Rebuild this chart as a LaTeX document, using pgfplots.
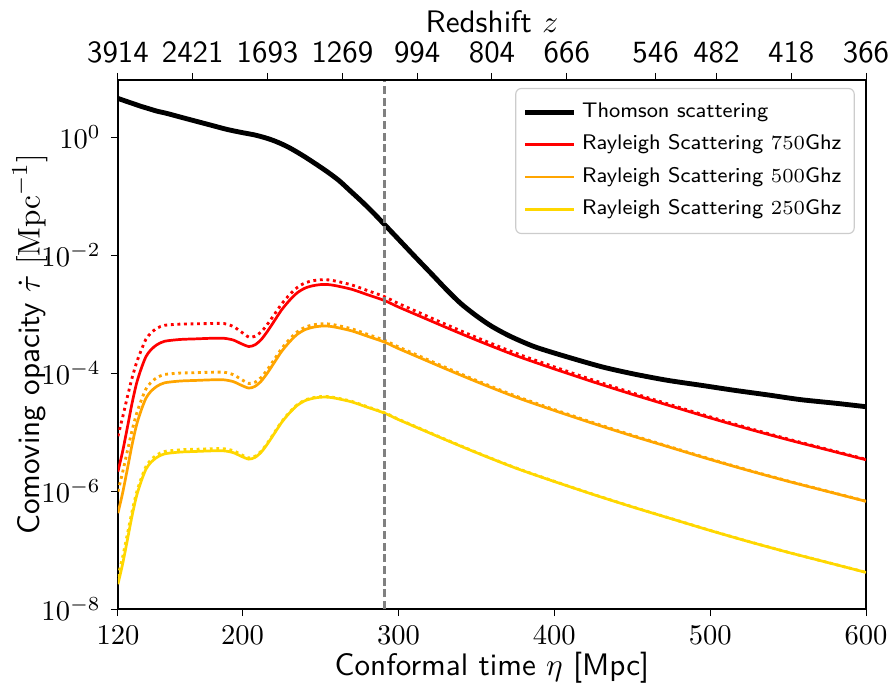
\documentclass[border=0pt]{standalone}
\usepackage{pgfplots}
\usepackage{pgfplotstable}
\pgfplotsset{compat=1.18}
\definecolor{cgold}{RGB}{255,215,0}
\definecolor{corange}{RGB}{255,165,0}
\definecolor{cred}{RGB}{255,0,0}

\pgfplotstableread{
eta thom
120 4.529
125 4.074
130 3.673
135 3.311
140 3.020
145 2.754
151.6 2.512
160 2.188
170 1.862
180 1.585
190 1.349
200 1.189
208 1.084
215 0.966
220 0.871
225 0.767
230 0.661
235 0.556
240 0.462
247.8 0.339
255 0.251
262 0.182
269 0.123
276 0.0832
283 0.0550
291 0.0331
300 0.0186
310 0.00977
322 0.00457
331 0.00257
340 0.00151
350 9.333e-4
360 6.166e-4
372 4.169e-4
387 2.818e-4
405 1.995e-4
430 1.288e-4
450 9.772e-5
472 7.586e-5
495 6.166e-5
515 5.129e-5
537 4.266e-5
558 3.548e-5
580 3.090e-5
600 2.692e-5
}\thomson

\pgfplotstableread{
eta r750 r500 r250 d750 d500 d250
120 2.138e-6 4.223e-7 2.640e-8 8.512e-6 9.818e-7 3.514e-8
123 4.677e-6 9.237e-7 5.774e-8 1.778e-5 2.074e-6 7.570e-8
126 1.175e-5 2.321e-6 1.451e-7 3.890e-5 4.705e-6 1.824e-7
129 3.020e-5 5.965e-6 3.728e-7 8.130e-5 1.045e-5 4.429e-7
132 6.761e-5 1.335e-5 8.347e-7 1.514e-4 2.071e-5 9.499e-7
135 1.202e-4 2.374e-5 1.484e-6 2.455e-4 3.473e-5 1.656e-6
138 1.905e-4 3.762e-5 2.352e-6 3.757e-4 5.387e-5 2.606e-6
141 2.455e-4 4.849e-5 3.031e-6 4.733e-4 6.847e-5 3.343e-6
145 3.020e-4 5.965e-5 3.728e-6 5.753e-4 8.363e-5 4.105e-6
150 3.467e-4 6.847e-5 4.280e-6 6.456e-4 9.469e-5 4.691e-6
160 3.715e-4 7.337e-5 4.586e-6 6.761e-4 1.001e-4 5.003e-6
170 3.802e-4 7.509e-5 4.694e-6 6.840e-4 1.017e-4 5.112e-6
180 3.890e-4 7.683e-5 4.802e-6 6.916e-4 1.034e-4 5.215e-6
188 3.890e-4 7.683e-5 4.802e-6 6.916e-4 1.034e-4 5.215e-6
194 3.631e-4 7.171e-5 4.483e-6 6.165e-4 9.394e-5 4.833e-6
199 3.162e-4 6.245e-5 3.904e-6 5.012e-4 7.869e-5 4.158e-6
204 2.818e-4 5.566e-5 3.479e-6 4.072e-4 6.668e-5 3.649e-6
208 3.020e-4 5.965e-5 3.728e-6 4.216e-4 7.015e-5 3.892e-6
212 3.715e-4 7.337e-5 4.586e-6 5.012e-4 8.474e-5 4.765e-6
216 5.129e-4 1.013e-4 6.332e-6 6.760e-4 1.156e-4 6.554e-6
220 7.413e-4 1.464e-4 9.152e-6 9.548e-4 1.651e-4 9.445e-6
225 1.175e-3 2.321e-4 1.451e-5 1.479e-3 2.588e-4 1.493e-5
230 1.698e-3 3.354e-4 2.096e-5 2.114e-3 3.720e-4 2.153e-5
235 2.291e-3 4.525e-4 2.828e-5 2.818e-3 4.987e-4 2.902e-5
240 2.754e-3 5.439e-4 3.400e-5 3.374e-3 5.983e-4 3.485e-5
245 3.020e-3 5.965e-4 3.728e-5 3.672e-3 6.538e-4 3.817e-5
250 3.162e-3 6.245e-4 3.904e-5 3.829e-3 6.832e-4 3.994e-5
255 3.162e-3 6.245e-4 3.904e-5 3.801e-3 6.807e-4 3.990e-5
260 3.020e-3 5.965e-4 3.728e-5 3.615e-3 6.490e-4 3.810e-5
270 2.630e-3 5.194e-4 3.247e-5 3.119e-3 5.625e-4 3.315e-5
280 2.138e-3 4.223e-4 2.640e-5 2.512e-3 4.552e-4 2.690e-5
291 1.698e-3 3.354e-4 2.096e-5 1.976e-3 3.599e-4 2.134e-5
300 1.318e-3 2.603e-4 1.627e-5 1.513e-3 2.775e-4 1.653e-5
315 8.913e-4 1.760e-4 1.100e-5 1.012e-3 1.866e-4 1.117e-5
330 6.026e-4 1.190e-4 7.440e-6 6.761e-4 1.254e-4 7.544e-6
350 3.631e-4 7.171e-5 4.483e-6 4.027e-4 7.515e-5 4.537e-6
375 1.995e-4 3.940e-5 2.463e-6 2.187e-4 4.109e-5 2.490e-6
400 1.175e-4 2.321e-5 1.451e-6 1.274e-4 2.407e-5 1.464e-6
425 7.079e-5 1.398e-5 8.740e-7 7.589e-5 1.443e-5 8.810e-7
450 4.365e-5 8.621e-6 5.389e-7 4.623e-5 8.845e-6 5.427e-7
475 2.754e-5 5.439e-6 3.400e-7 2.883e-5 5.553e-6 3.417e-7
500 1.738e-5 3.433e-6 2.146e-7 1.811e-5 3.498e-6 2.157e-7
525 1.122e-5 2.216e-6 1.385e-7 1.161e-5 2.251e-6 1.391e-7
550 7.413e-6 1.464e-6 9.152e-8 7.621e-6 1.482e-6 9.179e-8
575 5.012e-6 9.899e-7 6.188e-8 5.127e-6 9.998e-7 6.207e-8
600 3.388e-6 6.691e-7 4.183e-8 3.452e-6 6.745e-7 4.191e-8
}\rayleigh

\begin{document}
\begin{tikzpicture}
\begin{axis}[
  name=main,
  scale only axis, width=262pt, height=185.3pt,
  xmin=120, xmax=600,
  ymode=log, ymin=1e-8, ymax=9.3,
  xtick={120,200,300,400,500,600},
  ytick={1e-8,1e-6,1e-4,1e-2,1},
  yminorticks=false,
  tick align=outside, tick pos=left,
  major tick length=2.5pt,
  every tick/.style={black, line width=0.35pt},
  axis line style={line width=0.45pt},
  xlabel={Conformal time $\eta$ [Mpc]},
  ylabel={Comoving opacity $\dot{\tau}$ $[\mathrm{Mpc}^{-1}]$},
  xlabel style={font=\fontsize{10.9}{13}\sffamily, at={(axis description cs:0.5,-0.111)}, anchor=center, inner sep=1pt},
  ylabel style={font=\fontsize{10.9}{13}\sffamily, at={(axis description cs:-0.1176,0.5)}, anchor=center},
  legend cell align=left,
  legend style={at={(rel axis cs:0.985,0.985)}, anchor=north east,
    draw=black!20, rounded corners=2pt, fill=white, font=\fontsize{7.4}{8.9}\sffamily,
    row sep=0.6pt, inner xsep=2.5pt, inner ysep=3pt},
]
\addplot[smooth, tension=0.45, black, line width=1.7pt] table[x=eta, y=thom] {\thomson};
\addlegendentry{Thomson scattering}
\addplot[smooth, tension=0.45, cred, line width=0.95pt] table[x=eta, y=r750] {\rayleigh};
\addlegendentry{Rayleigh Scattering $750$Ghz}
\addplot[smooth, tension=0.45, corange, line width=0.95pt] table[x=eta, y=r500] {\rayleigh};
\addlegendentry{Rayleigh Scattering $500$Ghz}
\addplot[smooth, tension=0.45, cgold, line width=0.95pt] table[x=eta, y=r250] {\rayleigh};
\addlegendentry{Rayleigh Scattering $250$Ghz}
\addplot[smooth, tension=0.45, forget plot, cred, line width=1pt, dash pattern=on 1pt off 1.3pt] table[x=eta, y=d750] {\rayleigh};
\addplot[smooth, tension=0.45, forget plot, corange, line width=1pt, dash pattern=on 1pt off 1.3pt] table[x=eta, y=d500] {\rayleigh};
\addplot[smooth, tension=0.45, forget plot, cgold, line width=1pt, dash pattern=on 1pt off 1.3pt] table[x=eta, y=d250] {\rayleigh};
\addplot[forget plot, black!50, line width=0.9pt, dash pattern=on 2.8pt off 1.3pt] coordinates {(291.2,1e-8) (291.2,9.3)};
\end{axis}
\begin{axis}[
  scale only axis, width=262pt, height=185.3pt,
  xmin=120, xmax=600, ymin=0, ymax=1,
  axis x line*=top, axis y line=none,
  tick align=outside,
  major tick length=2.5pt,
  every tick/.style={black, line width=0.35pt},
  axis line style={line width=0.45pt},
  xtick={120,168,216,264,312,360,408,465,504,552,600},
  xticklabels={3914,2421,1693,1269,994,804,666,546,482,418,366},
  xticklabel style={font=\fontsize{10.8}{13}\sffamily},
  xlabel={Redshift $z$},
  xlabel style={font=\fontsize{10.9}{13}\sffamily, at={(axis description cs:0.5,1.1096)}, anchor=center},
]
\end{axis}
\pgfresetboundingbox
\path[use as bounding box] ([xshift=-41.3pt,yshift=-25.6pt]main.south west) rectangle ([xshift=7.7pt,yshift=28pt]main.north east);
\end{tikzpicture}
\end{document}
